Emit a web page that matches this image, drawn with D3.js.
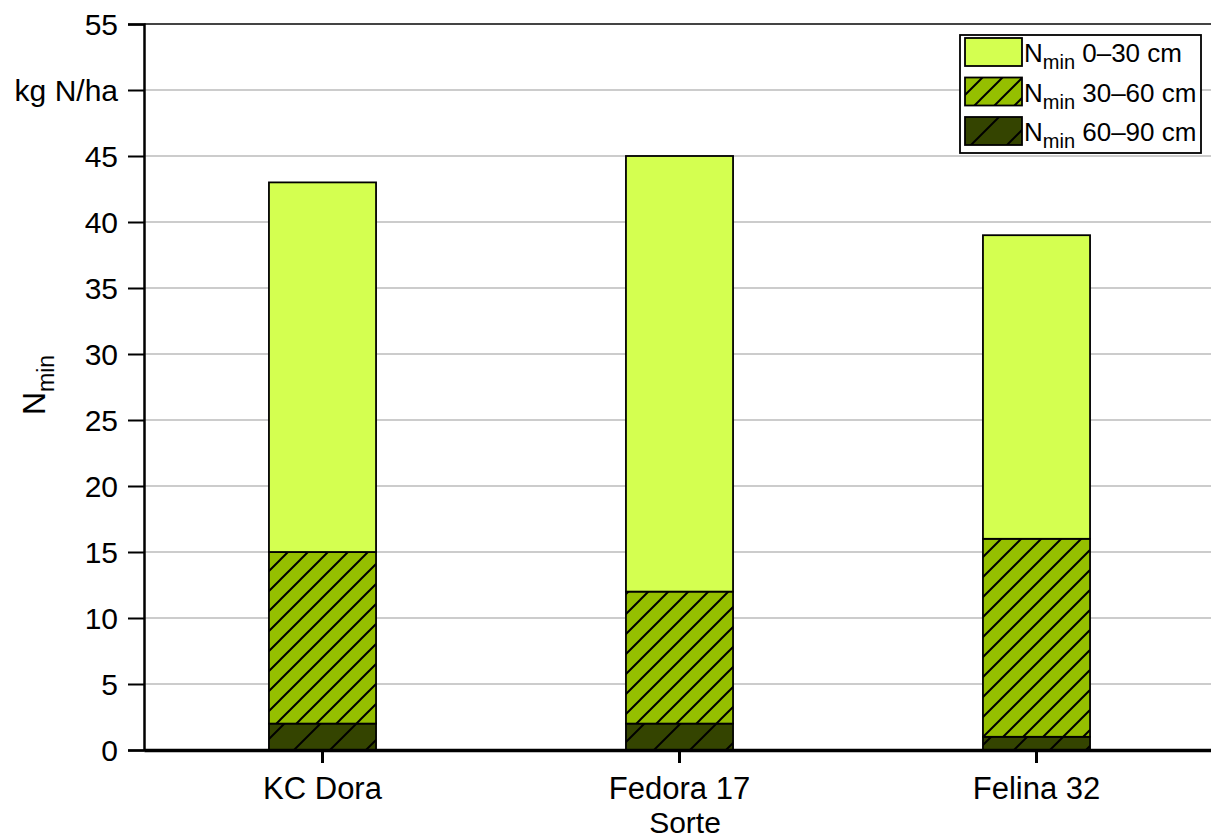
<!DOCTYPE html>
<html><head><meta charset="utf-8">
<script src="https://cdn.jsdelivr.net/npm/d3@7"></script>
<style>body{margin:0;background:#fff}svg{display:block;font-family:"Liberation Sans",Arial,sans-serif}</style>
</head><body><svg id="c" width="1211" height="839"></svg>
<script>
const categories = ["KC Dora", "Fedora 17", "Felina 32"];
const seriesNames = ["60–90 cm", "30–60 cm", "0–30 cm"];
const n6090 = [2, 2, 1];
const n3060 = [13, 10, 15];
const n030 = [28, 33, 23];
const yTicks = [0, 5, 10, 15, 20, 25, 30, 35, 40, 45, 50, 55];
const yTickLabels = ["0", "5", "10", "15", "20", "25", "30", "35", "40", "45", "kg N/ha", "55"];

const svg = d3.select("#c");
const L = 144, R = 1215, T = 24, B = 750;
const x = d3.scaleBand().domain(categories).range([L, R]).paddingInner(0.7).paddingOuter(0.35);
const y = d3.scaleLinear().domain([0, 55]).range([B, T]);

const defs = svg.append("defs");
function hatch(id, bg, spacing) {
  const p = defs.append("pattern").attr("id", id).attr("patternUnits", "userSpaceOnUse")
    .attr("width", spacing).attr("height", spacing);
  p.append("rect").attr("width", spacing).attr("height", spacing).attr("fill", bg);
  p.append("path").attr("d", `M0,${spacing} L${spacing},0 M${-spacing/2},${spacing/2} L${spacing/2},${-spacing/2} M${spacing/2},${spacing*1.5} L${spacing*1.5},${spacing/2}`)
    .attr("stroke", "#000").attr("stroke-width", 2);
}
hatch("hMid", "#95bf00", 20);
hatch("hDark", "#344400", 36);
const fills = ["url(#hDark)", "url(#hMid)", "#d4ff50"];

// gridlines
svg.append("g").selectAll("line").data(yTicks.filter(d => d > 0)).join("line")
  .attr("x1", L).attr("x2", 1211).attr("y1", d => y(d)).attr("y2", d => y(d))
  .attr("stroke", d => d === 55 ? "#444" : "#999").attr("stroke-width", d => d === 55 ? 2 : 1);

// stacks
const rows = categories.map((c, i) => ({cat: c, s0: n6090[i], s1: n3060[i], s2: n030[i]}));
const stack = d3.stack().keys(["s0", "s1", "s2"])(rows);
stack.forEach((layer, li) => {
  svg.append("g").selectAll("rect").data(layer).join("rect")
    .attr("x", d => x(d.data.cat)).attr("width", x.bandwidth())
    .attr("y", d => y(d[1])).attr("height", d => y(d[0]) - y(d[1]))
    .attr("fill", fills[li]).attr("stroke", "#000").attr("stroke-width", 1.8);
});

// y axis
const ya = d3.axisLeft(y).tickValues(yTicks).tickFormat((d, i) => yTickLabels[i]).tickSize(16).tickPadding(10);
const yg = svg.append("g").attr("transform", `translate(${L},0)`).call(ya);
yg.select(".domain").attr("stroke-width", 2.5);
yg.selectAll(".tick line").attr("stroke-width", 2);
yg.selectAll("text").attr("font-size", 30).attr("fill", "#000").attr("dy", "0.36em").attr("font-family", "Liberation Sans, Arial, sans-serif");

// x axis
const xa = d3.axisBottom(x).tickSize(13).tickPadding(14).tickSizeOuter(0);
const xg = svg.append("g").attr("transform", `translate(0,${B})`).call(xa);
xg.select(".domain").attr("stroke-width", 3.5);
xg.selectAll(".tick line").attr("stroke-width", 3);
xg.selectAll("text").attr("font-size", 31).attr("fill", "#000").attr("font-family", "Liberation Sans, Arial, sans-serif");

// axis titles
svg.append("text").attr("x", 685).attr("y", 833).attr("text-anchor", "middle").attr("font-size", 30).text("Sorte");
const yt = svg.append("text").attr("transform", "translate(45,385) rotate(-90)").attr("text-anchor", "middle").attr("font-size", 32);
yt.append("tspan").text("N");
yt.append("tspan").attr("font-size", 23).attr("dy", 9).text("min");

// legend
const lg = svg.append("g");
lg.append("rect").attr("x", 960).attr("y", 35).attr("width", 241).attr("height", 118).attr("fill", "#fff").attr("stroke", "#000").attr("stroke-width", 1.8);
const legendOrder = [2, 1, 0];
legendOrder.forEach((si, i) => {
  const yy = 38 + i * 39.5;
  lg.append("rect").attr("x", 965).attr("y", yy).attr("width", 57).attr("height", 28)
    .attr("fill", fills[si]).attr("stroke", "#000").attr("stroke-width", 1.8);
  const t = lg.append("text").attr("x", 1024).attr("y", yy + 24).attr("font-size", 26);
  t.append("tspan").text("N");
  t.append("tspan").attr("font-size", 20).attr("dy", 7).text("min");
  t.append("tspan").attr("dy", -7).text(" " + seriesNames[si]);
});
</script></body></html>
